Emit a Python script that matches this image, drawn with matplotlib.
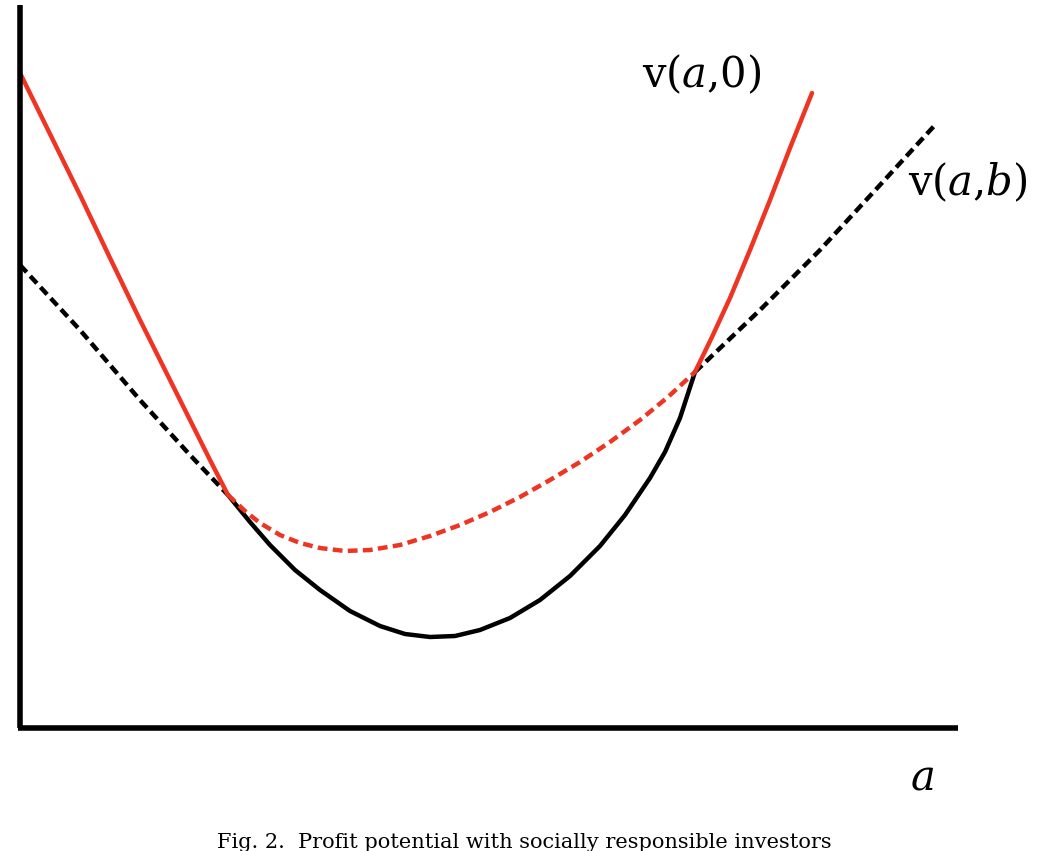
import matplotlib
matplotlib.use("Agg")
import matplotlib.pyplot as plt

plt.rcParams['mathtext.fontset'] = 'dejavuserif'

# v(a,0) red curve (pixel-like coords, y downward)
red_left_x = [20, 50, 80, 110, 140, 165, 190, 210, 228]
red_left_y = [73, 134, 195, 258, 320, 370, 420, 460, 495]
red_mid_x = [228, 245, 260, 280, 300, 320, 345, 370, 400, 430, 460, 490, 520, 550, 580, 610, 640, 668, 695]
red_mid_y = [495, 511, 523, 535, 543, 548, 551, 550, 545, 536, 525, 512, 497, 480, 462, 442, 420, 397, 372]
red_right_x = [695, 712, 730, 750, 770, 790, 812]
red_right_y = [372, 337, 298, 250, 200, 148, 93]

# v(a,b) black curve
blk_left_x = [20, 80, 140, 190, 228]
blk_left_y = [265, 330, 400, 455, 495]
blk_mid_x = [228, 250, 270, 295, 320, 350, 380, 405, 430, 455, 480, 510, 540, 570, 600, 625, 650, 665, 680, 695]
blk_mid_y = [495, 522, 545, 570, 590, 611, 626, 634, 637, 636, 630, 618, 600, 576, 546, 515, 478, 452, 418, 372]
blk_right_x = [695, 760, 820, 880, 935]
blk_right_y = [372, 310, 250, 185, 125]

fig = plt.figure(figsize=(10.48, 8.51), dpi=100)
ax = fig.add_axes([0, 0, 1, 1])
ax.set_xlim(0, 1048)
ax.set_ylim(851, 0)
ax.axis('off')

red = '#ee3524'
lw = 3.2
ax.plot(blk_left_x, blk_left_y, color='black', lw=lw, ls=(0, (2.2, 1.2)))
ax.plot(blk_right_x, blk_right_y, color='black', lw=lw, ls=(0, (2.2, 1.2)))
ax.plot(blk_mid_x, blk_mid_y, color='black', lw=lw, solid_capstyle='round', solid_joinstyle='round')
ax.plot(red_mid_x, red_mid_y, color=red, lw=lw, ls=(0, (2.2, 1.2)))
ax.plot(red_left_x, red_left_y, color=red, lw=lw, solid_capstyle='round', solid_joinstyle='round')
ax.plot(red_right_x, red_right_y, color=red, lw=lw, solid_capstyle='round', solid_joinstyle='round')

# axes
ax.plot([20, 20], [5, 728], color='black', lw=4, solid_capstyle='butt')
ax.plot([18, 958], [728, 728], color='black', lw=4, solid_capstyle='butt')

ax.text(642, 75, r"v($a$,0)", fontsize=30, family='DejaVu Serif', va='center', ha='left')
ax.text(908, 183, r"v($a$,$b$)", fontsize=30, family='DejaVu Serif', va='center', ha='left')
ax.text(922, 778, r"$a$", fontsize=30, va='center', ha='center')
ax.text(524, 833, "Fig. 2.  Profit potential with socially responsible investors",
        fontsize=15, family='DejaVu Serif', ha='center', va='top')

fig.savefig("out.png", dpi=100)
